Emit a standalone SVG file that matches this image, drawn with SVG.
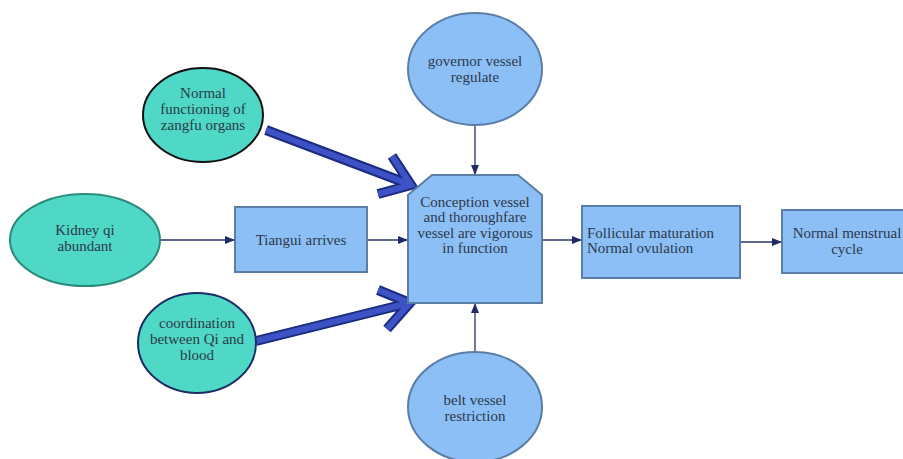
<svg xmlns="http://www.w3.org/2000/svg" width="903" height="459" viewBox="0 0 903 459">
<style>
text{font-family:"Liberation Serif","Times New Roman",serif;font-size:15px;fill:#2c3848;text-anchor:middle}
.teal{fill:#4fd8c6;stroke:#2a8a7c;stroke-width:2}
.blue{fill:#8dbff7;stroke:#5a7ea6;stroke-width:2}
.conn{stroke:#2a3566;stroke-width:1.3;fill:none;marker-end:url(#ah)}
.big1{stroke:#1c2a80;stroke-width:10;fill:none;stroke-linejoin:miter;stroke-linecap:butt}
.big2{stroke:#3d52c4;stroke-width:6;fill:none;stroke-linejoin:miter;stroke-linecap:butt}
</style>
<defs>
<marker id="ah" markerWidth="10" markerHeight="8" refX="10" refY="4" orient="auto" markerUnits="userSpaceOnUse">
<path d="M0,0 L10,4 L0,8 Z" fill="#1f2a66"/>
</marker>
</defs>
<rect width="903" height="459" fill="#ffffff"/>
<g id="connectors">
<line class="conn" x1="160" y1="240" x2="235" y2="240"/>
<line class="conn" x1="367" y1="240" x2="408" y2="240"/>
<line class="conn" x1="475" y1="125" x2="475" y2="175"/>
<line class="conn" x1="475" y1="352" x2="475" y2="303"/>
<line class="conn" x1="542" y1="240" x2="582" y2="240"/>
<line class="conn" x1="740" y1="242" x2="782" y2="242"/>
<g id="thick1">
<path class="big1" d="M266,130 L406,183 M378,194 L411,185 L392,156"/>
<path class="big2" d="M266,130 L406,183 M378,194 L411,185 L392,156"/>
</g>
<g id="thick2">
<path class="big1" d="M256,341 L405,304 M387,329 L410,303 L378,290"/>
<path class="big2" d="M256,341 L405,304 M387,329 L410,303 L378,290"/>
</g>
</g>
<g id="kidney">
<ellipse class="teal" cx="85" cy="240" rx="75" ry="46"/>
<text x="85" y="235">Kidney qi</text>
<text x="85" y="251">abundant</text>
</g>
<g id="zangfu">
<ellipse cx="203" cy="115" rx="60" ry="47" fill="#4fd8c6" stroke="#111" stroke-width="2"/>
<text x="203" y="98">Normal</text>
<text x="203" y="114">functioning of</text>
<text x="203" y="130">zangfu organs</text>
</g>
<g id="coordination">
<ellipse cx="197" cy="343" rx="59" ry="50" fill="#4fd8c6" stroke="#1c2a66" stroke-width="2"/>
<text x="197" y="328">coordination</text>
<text x="197" y="344">between Qi and</text>
<text x="197" y="360">blood</text>
</g>
<g id="tiangui">
<rect class="blue" x="235" y="207" width="132" height="65"/>
<text x="301" y="245">Tiangui arrives</text>
</g>
<g id="governor">
<ellipse class="blue" cx="475" cy="69" rx="67" ry="56"/>
<text x="475" y="66">governor vessel</text>
<text x="475" y="82">regulate</text>
</g>
<g id="conception">
<polygon class="blue" points="432,175 518,175 542,195 542,303 408,303 408,195"/>
<text x="475" y="207">Conception vessel</text>
<text x="475" y="222">and thoroughfare</text>
<text x="475" y="238">vessel are vigorous</text>
<text x="475" y="253">in function</text>
</g>
<g id="belt">
<ellipse class="blue" cx="475" cy="407" rx="67" ry="55"/>
<text x="475" y="405">belt vessel</text>
<text x="475" y="421">restriction</text>
</g>
<g id="follicular">
<rect class="blue" x="582" y="206" width="158" height="72"/>
<text x="587" y="238" style="text-anchor:start">Follicular maturation</text>
<text x="587" y="253" style="text-anchor:start">Normal ovulation</text>
</g>
<g id="menstrual">
<rect class="blue" x="782" y="210" width="130" height="63"/>
<text x="847" y="238">Normal menstrual</text>
<text x="847" y="254">cycle</text>
</g>
</svg>
